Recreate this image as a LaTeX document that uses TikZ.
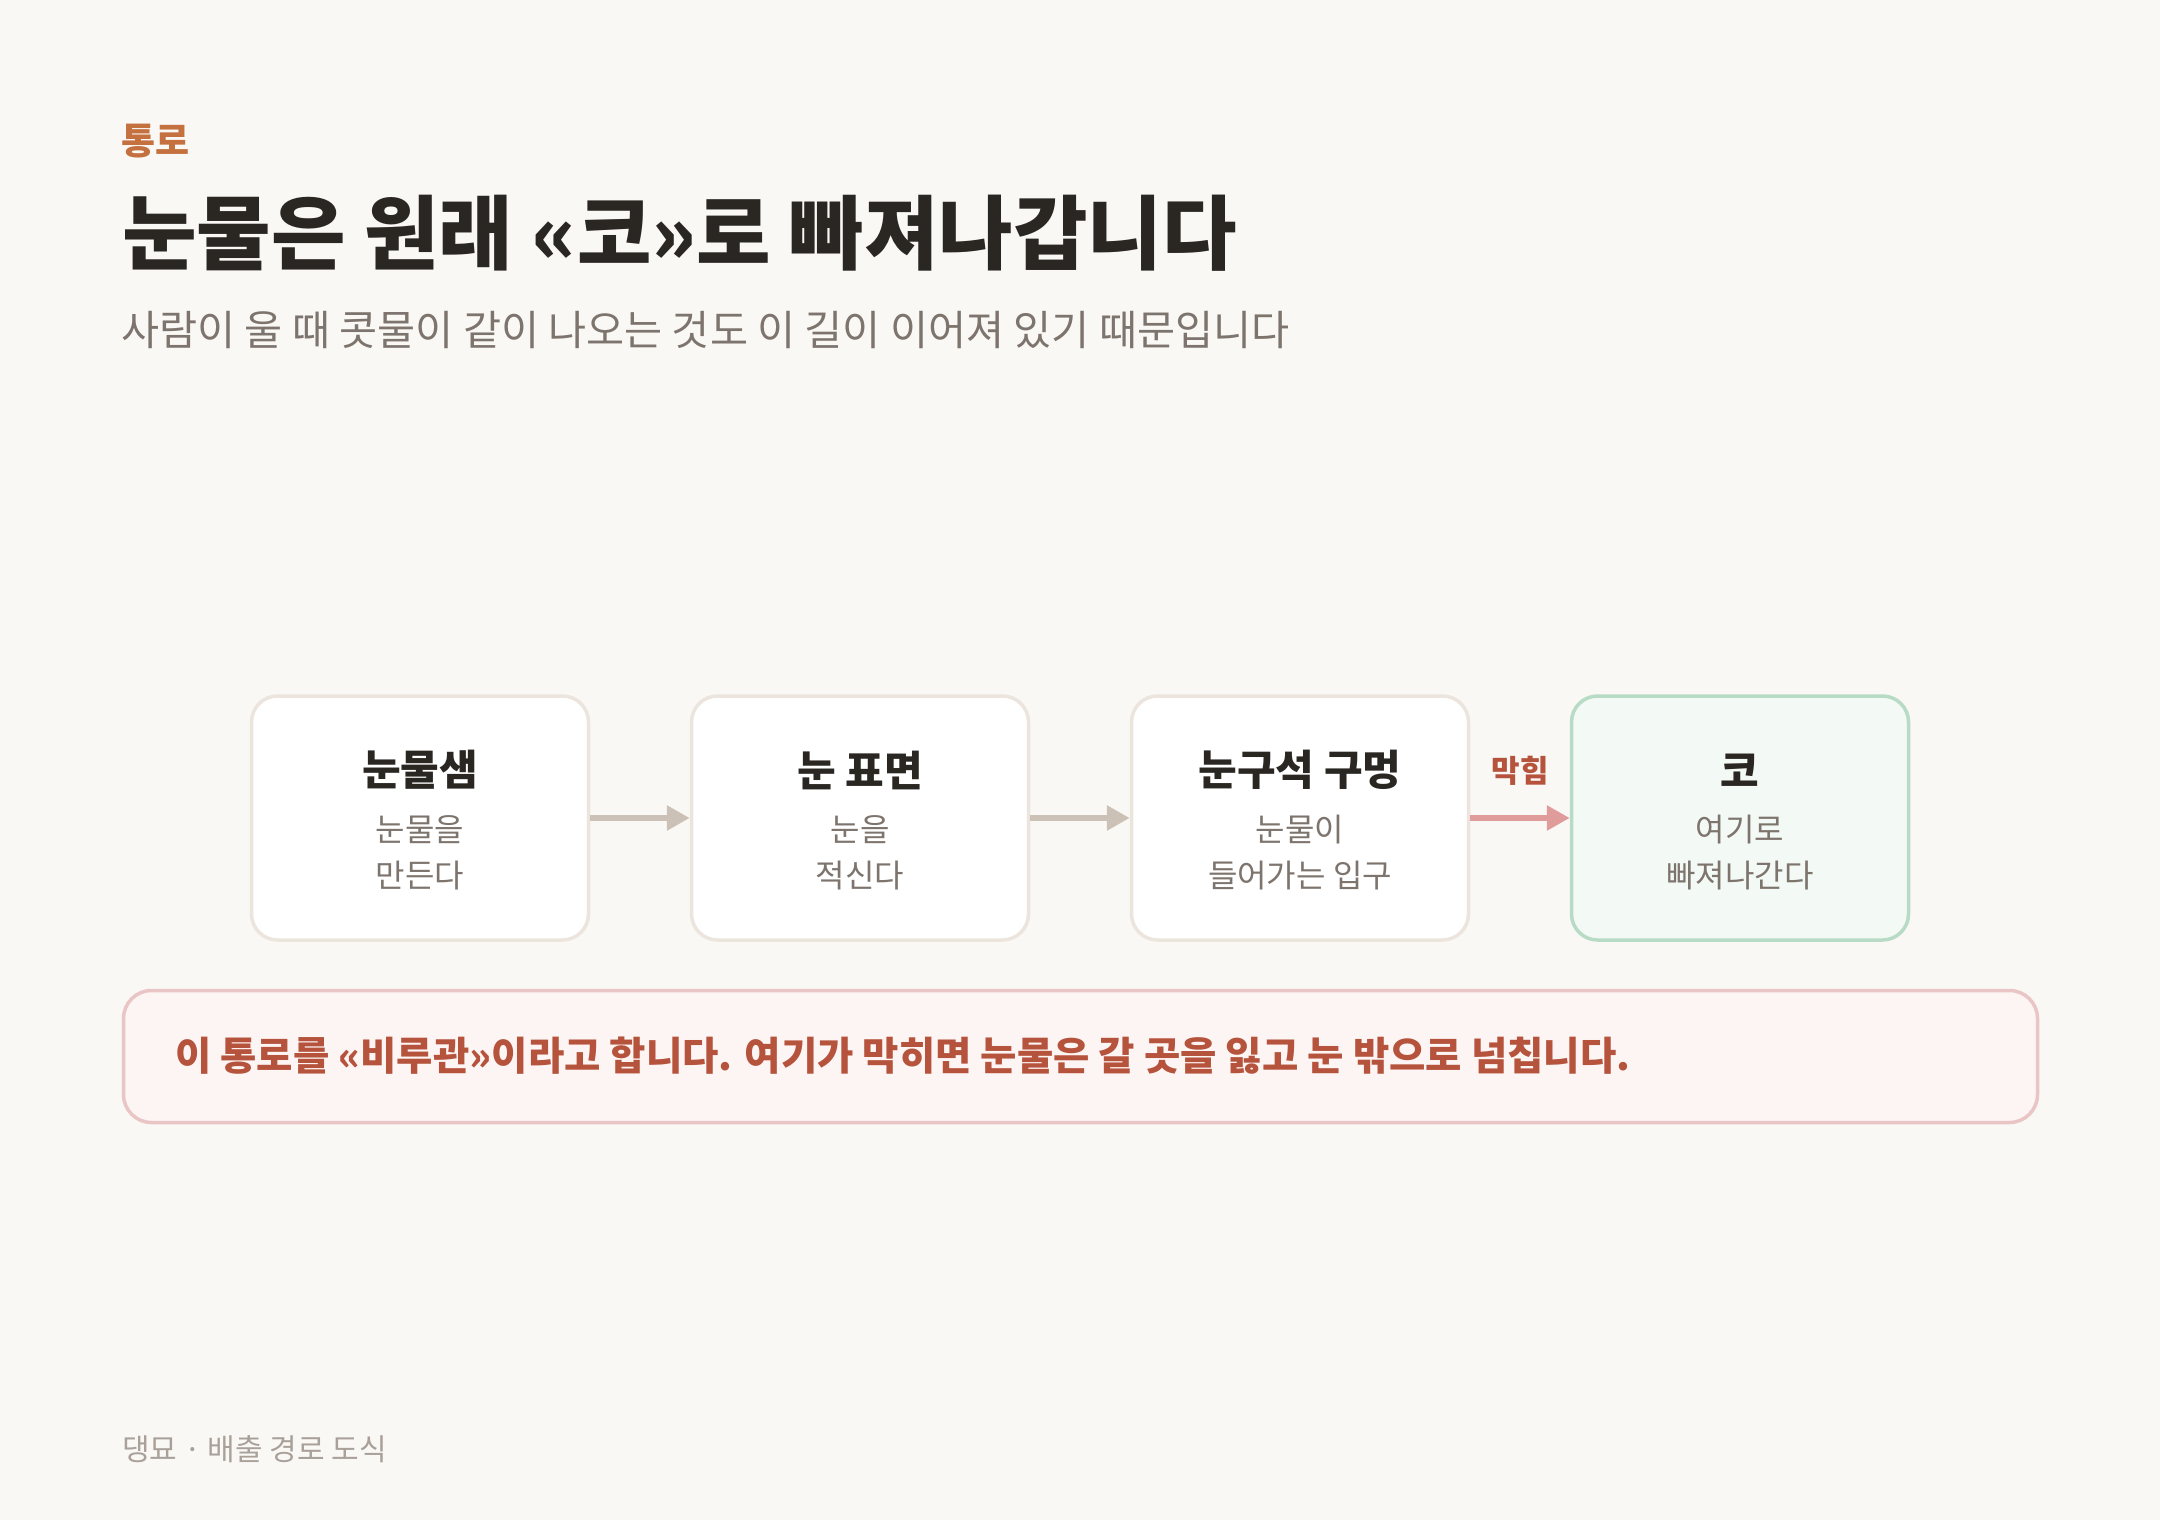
\documentclass[tikz,border=0pt]{standalone}
\usepackage{fontspec}
\setmainfont{Noto Sans CJK KR}
\usetikzlibrary{arrows.meta, calc}

\definecolor{paper}{HTML}{FAF8F5}
\definecolor{kickercol}{HTML}{C4703F}
\definecolor{ink}{HTML}{2A2622}
\definecolor{muted}{HTML}{7D746D}
\definecolor{boxline}{HTML}{ECE5DD}
\definecolor{noseline}{HTML}{B8DBC6}
\definecolor{nosefill}{HTML}{F3F9F4}
\definecolor{flowcol}{HTML}{CBC1B6}
\definecolor{blockcol}{HTML}{E09B9B}
\definecolor{warn}{HTML}{B5533C}
\definecolor{noteline}{HTML}{EAC5C5}
\definecolor{notefill}{HTML}{FDF5F4}
\definecolor{footcol}{HTML}{A9A199}

\begin{document}
\begin{tikzpicture}[x=1pt, y=-1pt,
    stepbox/.style={draw=boxline, fill=white, line width=3.5pt, rounded corners=26pt,
        minimum width=337pt, minimum height=244pt, inner sep=0pt},
    steptitle/.style={text=ink, inner sep=0pt, font=\fontsize{42}{48}\selectfont\bfseries},
    stepnote/.style={text=muted, inner sep=0pt, align=center, font=\fontsize{32}{46}\selectfont},
    flow/.style={draw=flowcol, line width=6pt, -{Triangle[length=23pt, width=24pt]}},
    block/.style={draw=blockcol, line width=6pt, -{Triangle[length=23pt, width=24pt]}},
    blocklabel/.style={text=warn, inner sep=0pt, font=\fontsize{31}{36}\selectfont\bfseries}
]

		\fill[paper] (0,0) rectangle (2160,1520);
		\useasboundingbox (0,0) rectangle (2160,1520);

		% header
		\node[anchor=west, inner sep=0pt, text=kickercol, font=\fontsize{37}{44}\selectfont\bfseries] (kicker) at (121,141) {통로};
		\node[anchor=west, inner sep=0pt, text=ink, font=\fontsize{81}{94}\selectfont\bfseries] (headline) at (122,233) {눈물은 원래 «코»로 빠져나갑니다};
		\node[anchor=west, inner sep=0pt, text=muted, font=\fontsize{41.4}{48}\selectfont] (lede) at (121,330) {사람이 울 때 콧물이 같이 나오는 것도 이 길이 이어져 있기 때문입니다};

		\coordinate (A) at (420,818);
		\coordinate (B) at (860,818);
		\coordinate (C) at (1300,818);
		\coordinate (D) at (1740,818);

		\node[stepbox] (gland) at (A) {};
		\node[stepbox] (surface) at (B) {};
		\node[stepbox] (corner) at (C) {};
		\node[stepbox, draw=noseline, fill=nosefill] (nose) at (D) {};

		\node[steptitle] (glandname) at ($(A)+(0,-48)$) {눈물샘};
		\node[stepnote] (glandnote) at ($(A)+(0,35)$) {눈물을\\만든다};
		\node[steptitle] (surfacename) at ($(B)+(0,-48)$) {눈 표면};
		\node[stepnote] (surfacenote) at ($(B)+(0,35)$) {눈을\\적신다};
		\node[steptitle] (cornername) at ($(C)+(0,-48)$) {눈구석 구멍};
		\node[stepnote] (cornernote) at ($(C)+(0,35)$) {눈물이\\들어가는 입구};
		\node[steptitle] (nosename) at ($(D)+(0,-48)$) {코};
		\node[stepnote] (nosenote) at ($(D)+(0,35)$) {여기로\\빠져나간다};

		\draw[flow] (gland.east) -- (surface.west);
		\draw[flow] (surface.east) -- (corner.west);
		\draw[block] (corner.east) -- node[blocklabel, above=30pt] (blocked) {막힘} (nose.west);

		% note
		\node[draw=noteline, fill=notefill, line width=3.5pt, rounded corners=28pt,
			minimum width=1914pt, minimum height=132pt, inner sep=0pt] (note) at (1080.5,1056.5) {};
		\node[anchor=west, inner sep=0pt, text=warn, font=\fontsize{39.5}{46}\selectfont\bfseries] (notetext) at (175,1056)
			{이 통로를 «비루관»이라고 합니다. 여기가 막히면 눈물은 갈 곳을 잃고 눈 밖으로 넘칩니다.};

		\node[anchor=west, inner sep=0pt, text=footcol, font=\fontsize{30}{36}\selectfont] (footer) at (122,1449) {댕묘 · 배출 경로 도식};

	\end{tikzpicture}
\end{document}
